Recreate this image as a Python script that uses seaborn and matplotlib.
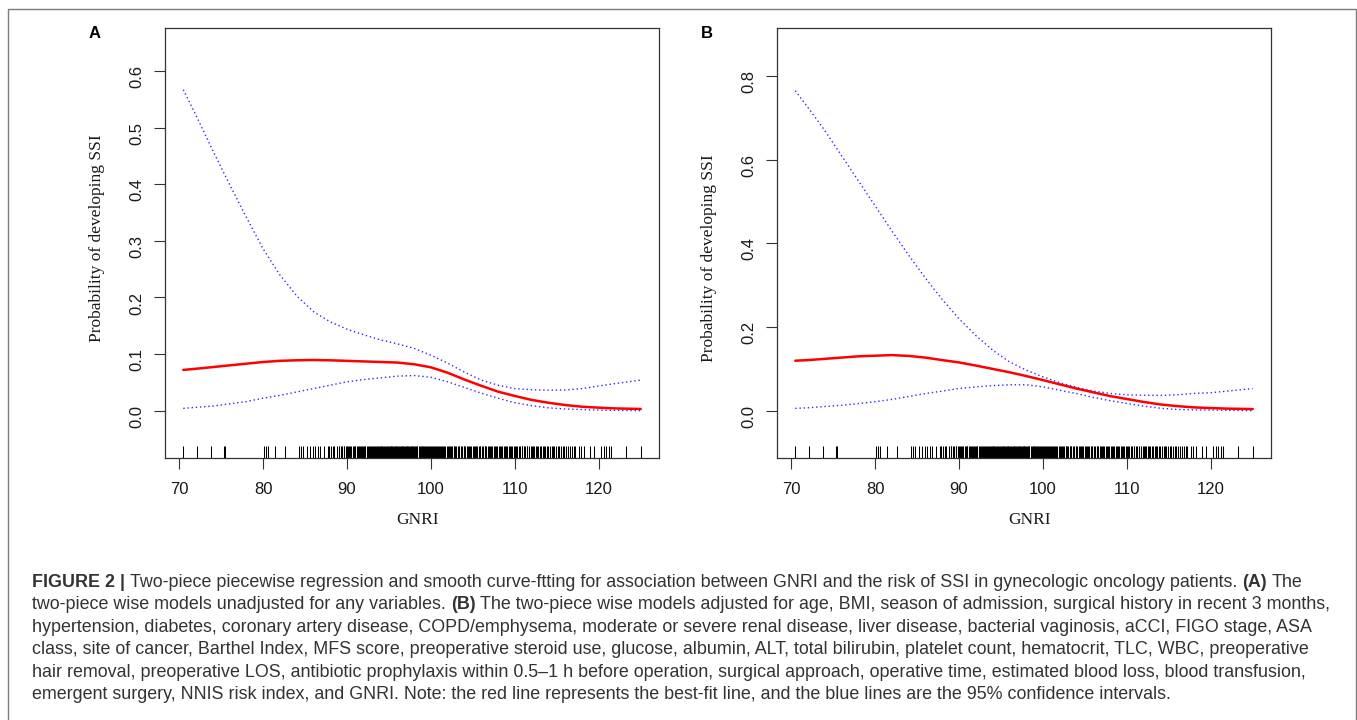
import matplotlib
matplotlib.use("Agg")
import matplotlib.pyplot as plt
import seaborn as sns
import pandas as pd
from matplotlib.patches import Rectangle
from matplotlib.text import Annotation

# values
gnri = [70.5, 72, 74, 76, 78, 80, 82, 84, 86, 88, 90, 92, 94, 96, 98, 100,
        102, 104, 106, 108, 110, 112, 114, 116, 118, 120, 122, 125]

fit_a = [0.072, 0.074, 0.077, 0.080, 0.083, 0.086, 0.088, 0.089, 0.0895, 0.089,
         0.088, 0.087, 0.086, 0.085, 0.082, 0.0766, 0.067, 0.055, 0.044, 0.0336,
         0.026, 0.019, 0.014, 0.010, 0.007, 0.0053, 0.004, 0.003]
upper_a = [0.567, 0.522, 0.460, 0.400, 0.342, 0.286, 0.240, 0.203, 0.175, 0.157,
           0.144, 0.134, 0.125, 0.118, 0.110, 0.098, 0.084, 0.068, 0.054, 0.045,
           0.039, 0.037, 0.0362, 0.0365, 0.039, 0.0436, 0.048, 0.054]
lower_a = [0.004, 0.006, 0.008, 0.012, 0.016, 0.022, 0.027, 0.033, 0.039, 0.045,
           0.051, 0.055, 0.058, 0.061, 0.062, 0.059, 0.051, 0.041, 0.031, 0.022,
           0.014, 0.009, 0.005, 0.003, 0.002, 0.001, 0.0005, 0.0]

fit_b = [0.1195, 0.121, 0.124, 0.127, 0.130, 0.1315, 0.133, 0.131, 0.127, 0.121,
         0.1155, 0.108, 0.100, 0.092, 0.083, 0.0733, 0.063, 0.053, 0.044, 0.035,
         0.028, 0.021, 0.015, 0.011, 0.008, 0.0064, 0.005, 0.004]
upper_b = [0.765, 0.725, 0.670, 0.610, 0.550, 0.490, 0.430, 0.372, 0.317, 0.266,
           0.220, 0.180, 0.145, 0.117, 0.097, 0.081, 0.067, 0.056, 0.047, 0.0414,
           0.038, 0.037, 0.0365, 0.038, 0.0414, 0.043, 0.047, 0.053]
lower_b = [0.0056, 0.007, 0.010, 0.013, 0.017, 0.0215, 0.027, 0.034, 0.041, 0.047,
           0.053, 0.057, 0.060, 0.062, 0.062, 0.057, 0.049, 0.041, 0.032, 0.024,
           0.0175, 0.011, 0.006, 0.003, 0.002, 0.0016, 0.001, 0.0]

# observed GNRI values (rug)
rug_gnri = [
    70.5, 72.1, 73.8, 75.3, 75.5, 80.1, 80.4, 80.6, 81.4, 82.6,
    84.3, 84.5, 84.8, 85.2, 85.6, 85.9, 86.2, 86.5, 86.8, 87.3,
    87.7, 87.9, 88.1, 88.3, 88.5, 88.8,
    89.0, 89.1, 89.3, 89.4, 89.6, 89.7, 89.9,
    90.0, 90.1, 90.3, 90.4, 90.5, 90.7, 90.8, 90.9,
    91.0, 91.2, 91.3, 91.4, 91.6, 91.7, 91.8, 91.9,
    92.0, 92.1, 92.2, 92.4, 92.5, 92.6, 92.8, 92.9,
    93.0, 93.1, 93.2, 93.3, 93.5, 93.6, 93.7, 93.8, 93.9,
    94.0, 94.1, 94.2, 94.3, 94.4, 94.5, 94.7, 94.8, 94.9,
    95.0, 95.1, 95.2, 95.3, 95.4, 95.5, 95.6, 95.7, 95.8, 95.9,
    96.0, 96.1, 96.2, 96.3, 96.4, 96.5, 96.6, 96.7, 96.8, 96.9,
    97.0, 97.1, 97.2, 97.3, 97.4, 97.5, 97.6, 97.7, 97.8, 97.9,
    98.0, 98.1, 98.2, 98.3, 98.4, 98.6, 98.7, 98.8, 98.9,
    99.0, 99.1, 99.2, 99.3, 99.4, 99.5, 99.6, 99.8, 99.9,
    100.0, 100.1, 100.2, 100.4, 100.5, 100.6, 100.7, 100.9,
    101.0, 101.1, 101.2, 101.3, 101.5, 101.6, 101.7, 101.9,
    102.0, 102.1, 102.3, 102.4, 102.5, 102.7, 102.8, 102.9,
    103.0, 103.2, 103.3, 103.4, 103.6, 103.7, 103.9,
    104.0, 104.1, 104.3, 104.4, 104.5, 104.7, 104.8,
    105.0, 105.1, 105.2, 105.4, 105.5, 105.7, 105.8, 105.9,
    106.1, 106.2, 106.4, 106.5, 106.6, 106.8, 106.9,
    107.0, 107.2, 107.3, 107.5, 107.6, 107.8, 107.9,
    108.1, 108.2, 108.4, 108.5, 108.7, 108.8,
    109.0, 109.1, 109.3, 109.4, 109.6, 109.7, 109.9,
    110.0, 110.2, 110.3, 110.5, 110.6, 110.8, 110.9,
    111.1, 111.2, 111.4, 111.5, 111.7, 111.9,
    112.0, 112.2, 112.3, 112.5, 112.7, 112.8,
    113.0, 113.1, 113.3, 113.5, 113.6, 113.8,
    114.0, 114.2, 114.4, 114.5, 114.7, 114.9,
    115.1, 115.3, 115.5, 115.7, 115.9,
    116.1, 116.3, 116.6, 116.8, 117.0, 117.2, 117.6, 117.9,
    118.2, 119.0, 119.4, 120.3, 120.6, 120.9, 121.2, 121.5, 123.3, 125.0,
]

x_ticks = [70, 80, 90, 100, 110, 120]
y_ticks_a = [0.0, 0.1, 0.2, 0.3, 0.4, 0.5, 0.6]
y_ticks_b = [0.0, 0.2, 0.4, 0.6, 0.8]

caption_lines = [
    [("FIGURE 2 |", True),
     ("Two-piece piecewise regression and smooth curve-ftting for association between GNRI "
      "and the risk of SSI in gynecologic oncology patients.", False),
     ("(A)", True), ("The", False)],
    [("two-piece wise models unadjusted for any variables.", False), ("(B)", True),
     ("The two-piece wise models adjusted for age, BMI, season of admission, surgical "
      "history in recent 3 months,", False)],
    [("hypertension, diabetes, coronary artery disease, COPD/emphysema, moderate or severe "
      "renal disease, liver disease, bacterial vaginosis, aCCI, FIGO stage, ASA", False)],
    [("class, site of cancer, Barthel Index, MFS score, preoperative steroid use, glucose, "
      "albumin, ALT, total bilirubin, platelet count, hematocrit, TLC, WBC, preoperative", False)],
    [("hair removal, preoperative LOS, antibiotic prophylaxis within 0.5\u20131 h before "
      "operation, surgical approach, operative time, estimated blood loss, blood transfusion,", False)],
    [("emergent surgery, NNIS risk index, and GNRI. Note: the red line represents the "
      "best-fit line, and the blue lines are the 95% confidence intervals.", False)],
]

sns.set_theme(style="ticks")
plt.rcParams["font.family"] = ["Liberation Sans", "DejaVu Sans"]

W, H = 1357, 720
fig = plt.figure(figsize=(W / 100, H / 100), dpi=100)


def add_axes_px(left, top, right, bottom):
    return fig.add_axes([left / W, 1 - bottom / H, (right - left) / W, (bottom - top) / H])


panels = [
    ("A", add_axes_px(165, 27.7, 659, 458), fit_a, upper_a, lower_a, y_ticks_a, (-0.0836, 0.6765), 0.512, 95),
    ("B", add_axes_px(777, 27.7, 1271, 458), fit_b, upper_b, lower_b, y_ticks_b, (-0.113, 0.9155), 0.465, 707),
]

for letter, ax, fit, upper, lower, yticks, ylim, ylab_y, letter_x in panels:
    df = pd.DataFrame({"GNRI": gnri, "fit": fit, "upper": upper, "lower": lower})
    for col in ["upper", "lower"]:
        sns.lineplot(data=df, x="GNRI", y=col, color="#2a2aff", linewidth=1.0,
                     linestyle=(0, (1, 2)), errorbar=None, ax=ax)
    sns.lineplot(data=df, x="GNRI", y="fit", color="#ff0000", linewidth=1.8,
                 errorbar=None, ax=ax)
    sns.rugplot(x=rug_gnri, height=0.0286, color="black", linewidth=0.75, alpha=1.0,
                expand_margins=False, ax=ax)

    ax.set_xlim(68.32, 127.18)
    ax.set_ylim(*ylim)
    ax.set_xticks(x_ticks)
    ax.set_yticks(yticks)
    ax.set_yticklabels([f"{v:.1f}" for v in yticks])

    for sp in ax.spines.values():
        sp.set_visible(True)
        sp.set_color("#333333")
        sp.set_linewidth(0.9)
    ax.tick_params(axis="both", direction="out", length=8, width=0.8, color="#333333",
                   labelsize=12, labelcolor="#1a1a1a")
    ax.tick_params(axis="x", pad=9)
    ax.tick_params(axis="y", pad=6.5, labelrotation=90)

    ax.set_xlabel("GNRI", family="Liberation Serif", fontsize=12.5, color="#1a1a1a")
    ax.set_ylabel("Probability of developing SSI", family="Liberation Serif",
                  fontsize=12.5, color="#1a1a1a")
    ax.xaxis.set_label_coords(0.512, -0.125)
    ax.yaxis.set_label_coords(-0.121, ylab_y)

    fig.text(letter_x / W, 1 - 34 / H, letter, fontsize=12, fontweight="bold",
             ha="center", va="center", color="black")

# outer frame (open at the bottom, as in the journal layout)
fig.add_artist(Rectangle((7.7 / W, -0.1), (1356 - 7.7) / W, 1 - 9 / H + 0.1,
                         transform=fig.transFigure, fill=False, edgecolor="#7a7a7a",
                         linewidth=1.0, clip_on=False))

# caption, fitted to the reference line width
renderer = fig.canvas.get_renderer()


def piece_width(txt, bold, size):
    t = fig.text(0, 0, txt, fontsize=size, fontweight="bold" if bold else "normal")
    w = t.get_window_extent(renderer).width
    t.remove()
    return w


base_size = 12
x0, target = 32, 1272
w1 = sum(piece_width(t, b, base_size) for t, b in caption_lines[0])
w1 += (len(caption_lines[0]) - 1) * 0.278 * base_size * 100 / 72
cap_size = base_size * target / w1

baseline0, line_step = 587, 22.4
for i, pieces in enumerate(caption_lines):
    y = 1 - (baseline0 + i * line_step) / H
    prev = None
    for txt, bold in pieces:
        weight = "bold" if bold else "normal"
        if prev is None:
            prev = fig.text(x0 / W, y, txt, fontsize=cap_size, fontweight=weight,
                            ha="left", va="baseline", color="#333333")
        else:
            ann = Annotation(txt, xy=(1, 0), xycoords=prev,
                             xytext=(0.278 * cap_size, 0), textcoords="offset points",
                             fontsize=cap_size, fontweight=weight, ha="left", va="bottom",
                             color="#333333")
            fig.add_artist(ann)
            prev = ann

fig.savefig("out.png", dpi=100)
